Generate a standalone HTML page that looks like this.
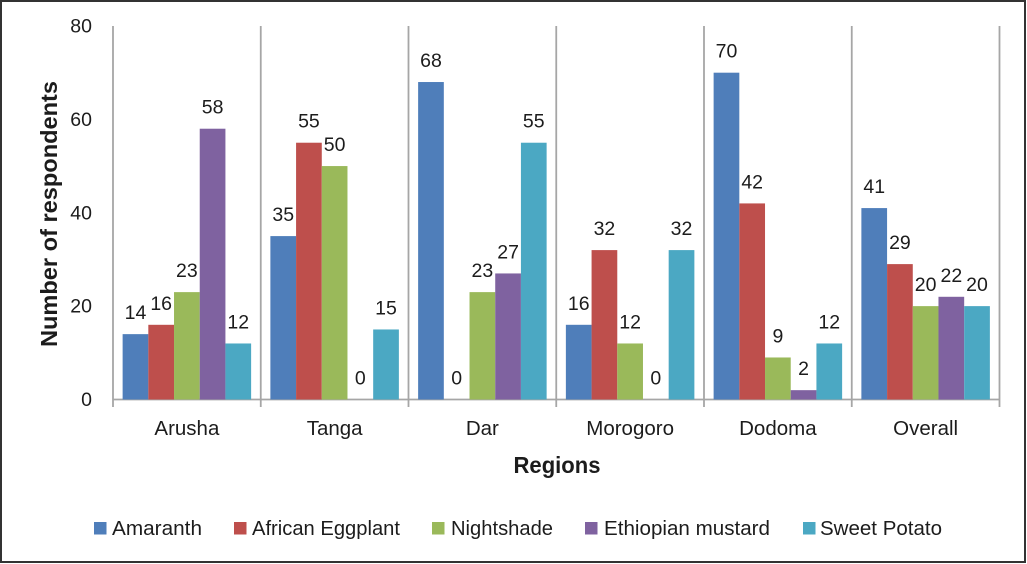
<!DOCTYPE html>
<html lang="en">
<head>
<meta charset="utf-8">
<title>Number of respondents by region</title>
<style>
  html, body { margin: 0; padding: 0; background: #fff; }
  svg { display: block; }
  text { font-family: "Liberation Sans", sans-serif; fill: #1c1c1c; }
</style>
</head>
<body>
<svg id="chart" xmlns="http://www.w3.org/2000/svg" width="1027" height="564" viewBox="0 0 1027 564">
  <rect x="1" y="1" width="1024" height="561" fill="#fff" stroke="#333" stroke-width="2"/>
  <g id="grid"></g>
  <g id="bars"></g>
  <g id="labels"></g>
  <g id="yticks"></g>
  <g id="xticks"></g>
  <text transform="translate(57,214) rotate(-90)" text-anchor="middle" font-size="23" font-weight="700" textLength="266" lengthAdjust="spacingAndGlyphs">Number of respondents</text>
  <text x="557" y="473" text-anchor="middle" font-size="23" font-weight="700" textLength="87" lengthAdjust="spacingAndGlyphs">Regions</text>
  <g id="legend"></g>
</svg>
<script>
const categories = ["Arusha", "Tanga", "Dar", "Morogoro", "Dodoma", "Overall"];
const seriesNames = ["Amaranth", "African Eggplant", "Nightshade", "Ethiopian mustard", "Sweet Potato"];
const amaranth = [14, 35, 68, 16, 70, 41];
const africanEggplant = [16, 55, 0, 32, 42, 29];
const nightshade = [23, 50, 23, 12, 9, 20];
const ethiopianMustard = [58, 0, 27, 0, 2, 22];
const sweetPotato = [12, 15, 55, 32, 12, 20];
const yTicks = [0, 20, 40, 60, 80];

const seriesValues = [amaranth, africanEggplant, nightshade, ethiopianMustard, sweetPotato];
const colors = ["#4F7EBA", "#BE4F4C", "#9AB95A", "#7F62A0", "#4BA8C3"];

const NS = "http://www.w3.org/2000/svg";
const plot = { left: 113, right: 999.5, top: 26, bottom: 399.5, max: 80 };
const catWidth = (plot.right - plot.left) / categories.length;
const barWidth = 25.7;
const groupPad = (catWidth - barWidth * seriesNames.length) / 2;

function yScale(v) { return plot.bottom - (v / plot.max) * (plot.bottom - plot.top); }
function xBand(i) { return plot.left + i * catWidth; }
function xBar(c, s) { return xBand(c) + groupPad + s * barWidth; }
function make(tag, attrs, parent, txt) {
  const el = document.createElementNS(NS, tag);
  for (const k in attrs) el.setAttribute(k, attrs[k]);
  if (txt !== undefined) el.textContent = txt;
  parent.appendChild(el);
  return el;
}

const gGrid = document.getElementById("grid");
const gBars = document.getElementById("bars");
const gLabels = document.getElementById("labels");
const gY = document.getElementById("yticks");
const gX = document.getElementById("xticks");
const gLegend = document.getElementById("legend");

for (let i = 0; i <= categories.length; i++) {
  const x = xBand(i);
  const line = make("line", { x1: x, x2: x, y1: plot.top, y2: plot.bottom + 7.5, stroke: "#A6A6A6", "stroke-width": 1.8 }, gGrid);
  
  
}
const baseline = make("line", { x1: plot.left, x2: plot.right, y1: plot.bottom, y2: plot.bottom, stroke: "#A6A6A6", "stroke-width": 1.8 }, gGrid);



yTicks.forEach(function (t) {
  const label = make("text", { x: 92, y: yScale(t) + 6.5, "text-anchor": "end", "font-size": 19.5 }, gY, t);
  
  
});

categories.forEach(function (c, i) {
  const label = make("text", { x: xBand(i) + catWidth / 2, y: 435, "text-anchor": "middle", "font-size": 20.5 }, gX, c);
  
  
});

seriesValues.forEach(function (vals, s) {
  vals.forEach(function (v, c) {
    const y = yScale(v);
    if (v > 0) {
      const bar = make("rect", { x: xBar(c, s), y: y, width: barWidth, height: plot.bottom - y, fill: colors[s] }, gBars);
      
      
    }
    const lab = make("text", { x: xBar(c, s) + barWidth / 2, y: y - 15, "text-anchor": "middle", "font-size": 19.5 }, gLabels, v);
    
    
  });
});

const legendMarkerX = [94, 234, 432, 585, 803];
const legendTextX = [112, 252, 451, 604, 820];
const legendTextW = [90, 148, 102, 166, 122];
seriesNames.forEach(function (name, s) {
  const swatch = make("rect", { x: legendMarkerX[s], y: 522, width: 12.5, height: 12.5, fill: colors[s] }, gLegend);
  
  
  const label = make("text", { x: legendTextX[s], y: 535, "font-size": 20.5, textLength: legendTextW[s], lengthAdjust: "spacingAndGlyphs" }, gLegend, name);
  
  
});
</script>
</body>
</html>
